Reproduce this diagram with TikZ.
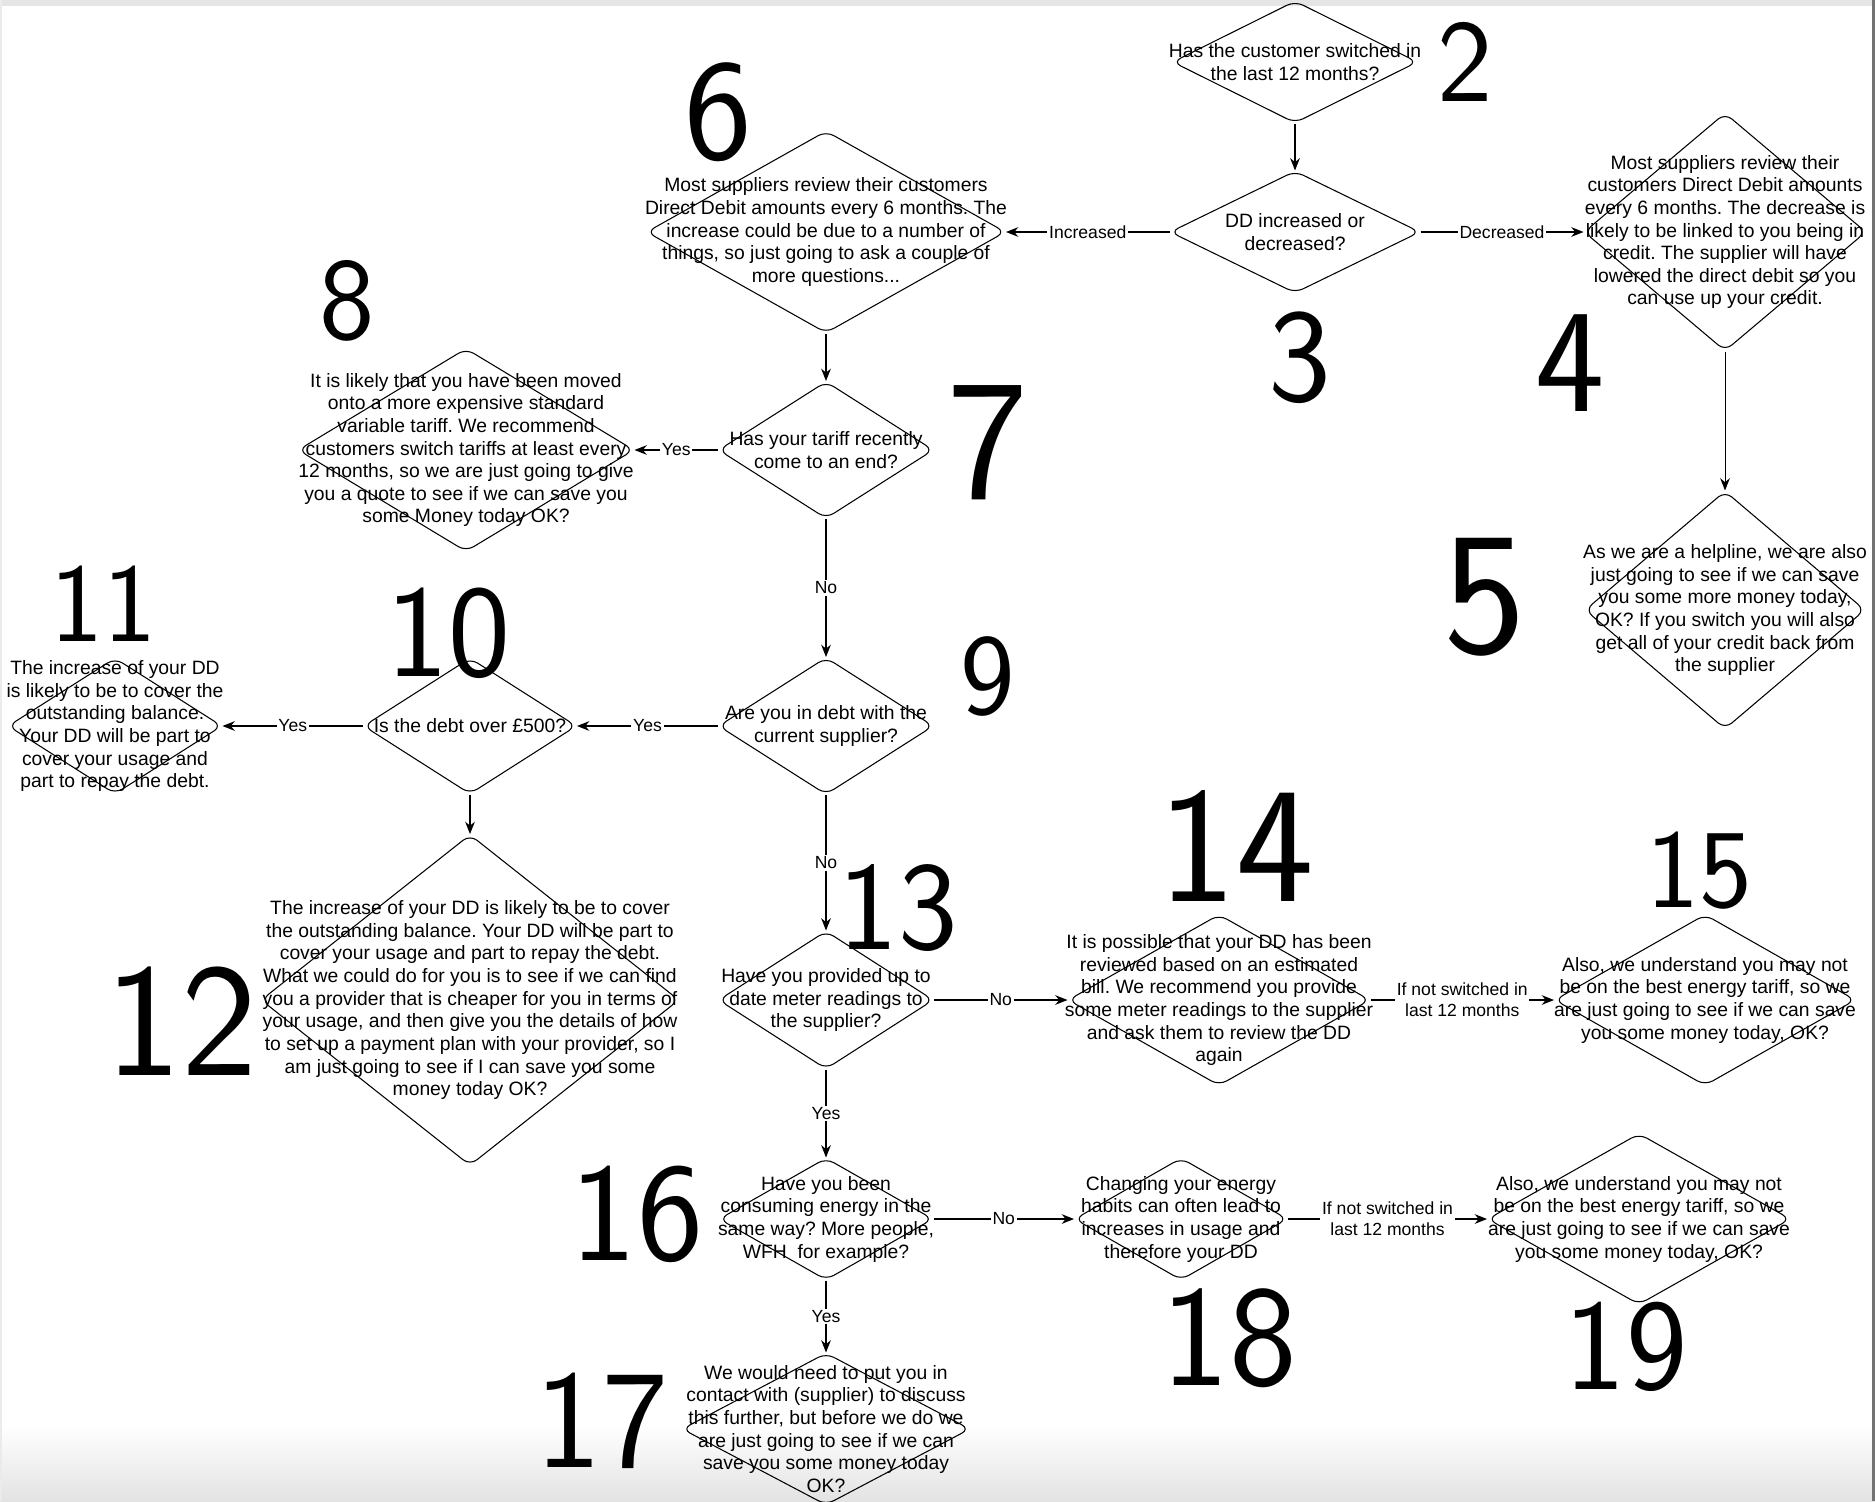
\documentclass[tikz,border=0pt]{standalone}
\usepackage{fontspec}
\setmainfont{Liberation Sans}
\usepackage{tikz}
\usetikzlibrary{arrows.meta, shapes.geometric}
\frenchspacing
\tikzset{%
	decision/.style={
		diamond,
		draw,
		rounded corners=5pt,
		inner sep=0pt,
		line width=0.6pt
	},
	txt/.style={
		align=center,
		font=\fontsize{11}{12.9}\selectfont,
		inner sep=0pt
	},
	branch/.style={
		fill=white,
		inner sep=1pt,
		align=center,
		font=\fontsize{10}{12}\selectfont
	},
	scribble/.style={
		font=\sffamily\fontsize{#1}{#1}\selectfont,
		inner sep=0pt
	},
}

\begin{document}
\begin{tikzpicture}[
			x=0.02cm, y=-0.02cm,
			flow/.style={draw, line width=0.6pt, -{Stealth[length=7pt, width=5.5pt]}}
			]
			\useasboundingbox (0,0) rectangle (1875,1501);
			\shade[top color=white, bottom color=black!11] (0,1425) rectangle (1875,1501);
			\fill[black!10] (0,0) rectangle (1875,6);
			\fill[black!8] (0,0) rectangle (1.5,1501);
			\fill[black!55] (1872,0) rectangle (1875,1501);

			\node[decision, minimum width=4.9cm, minimum height=2.44cm,
				label={[txt]center:{Has the customer switched in\\the last 12 months?}}] (switched) at (1295,62) {};
			\node[decision, minimum width=5cm, minimum height=2.44cm,
				label={[txt]center:{DD increased or\\decreased?}}] (ddchange) at (1295,232) {};
			\node[decision, minimum width=5.64cm, minimum height=4.76cm,
				label={[txt]center:{Most suppliers review their\\customers Direct Debit amounts\\every 6 months. The decrease is\\likely to be linked to you being in\\credit. The supplier will have\\lowered the direct debit so you\\can use up your credit.}}] (decrease) at (1725,232) {};
			\node[decision, minimum width=5.6cm, minimum height=4.76cm,
				label={[txt]center:{As we are a helpline, we are also\\just going to see if we can save\\you some more money today,\\OK? If you switch you will also\\get all of your credit back from\\the supplier}}] (helpline) at (1725,610) {};
			\node[decision, minimum width=7.18cm, minimum height=4.04cm,
				label={[txt]center:{Most suppliers review their customers\\Direct Debit amounts every 6 months. The\\increase could be due to a number of\\things, so just going to ask a couple of\\more questions...}}] (increase) at (826,232) {};
			\node[decision, minimum width=4.3cm, minimum height=2.74cm,
				label={[txt]center:{Has your tariff recently\\come to an end?}}] (tariff) at (826,450) {};
			\node[decision, minimum width=6.72cm, minimum height=4.06cm,
				label={[txt]center:{It is likely that you have been moved\\onto a more expensive standard\\variable tariff. We recommend\\customers switch tariffs at least every\\12 months, so we are just going to give\\you a quote to see if we can save you\\some Money today OK?}}] (svt) at (466,450) {};
			\node[decision, minimum width=4.3cm, minimum height=2.74cm,
				label={[txt]center:{Are you in debt with the\\current supplier?}}] (debt) at (826,726) {};
			\node[decision, minimum width=4.26cm, minimum height=2.72cm,
				label={[txt]center:{Is the debt over £500?}}] (over500) at (470,726) {};
			\node[decision, minimum width=4.28cm, minimum height=2.72cm,
				label={[txt]center:{The increase of your DD\\is likely to be to cover the\\outstanding balance.\\Your DD will be part to\\cover your usage and\\part to repay the debt.}}] (coversmall) at (115,726) {};
			\node[decision, minimum width=8.36cm, minimum height=6.62cm,
				label={[txt]center:{The increase of your DD is likely to be to cover\\the outstanding balance. Your DD will be part to\\cover your usage and part to repay the debt.\\What we could do for you is to see if we can find\\you a provider that is cheaper for you in terms of\\your usage, and then give you the details of how\\to set up a payment plan with your provider, so I\\am just going to see if I can save you some\\money today OK?}}] (coverbig) at (470,1000) {};
			\node[decision, minimum width=4.3cm, minimum height=2.76cm,
				label={[txt]center:{Have you provided up to\\date meter readings to\\the supplier?}}] (readings) at (826,1000) {};
			\node[decision, minimum width=6.04cm, minimum height=3.42cm,
				label={[txt]center:{It is possible that your DD has been\\reviewed based on an estimated\\bill. We recommend you provide\\some meter readings to the supplier\\and ask them to review the DD\\again}}] (estimate) at (1219,1000) {};
			\node[decision, minimum width=6.02cm, minimum height=3.42cm,
				label={[txt]center:{Also, we understand you may not\\be on the best energy tariff, so we\\are just going to see if we can save\\you some money today, OK?}}] (quote1) at (1705,1000) {};
			\node[decision, minimum width=4.28cm, minimum height=2.44cm,
				label={[txt]center:{Have you been\\consuming energy in the\\same way? More people,\\WFH\ \ for example?}}] (usage) at (826,1219) {};
			\node[decision, minimum width=4.26cm, minimum height=2.44cm,
				label={[txt]center:{Changing your energy\\habits can often lead to\\increases in usage and\\therefore your DD}}] (habits) at (1181,1219) {};
			\node[decision, minimum width=6.06cm, minimum height=3.42cm,
				label={[txt]center:{Also, we understand you may not\\be on the best energy tariff, so we\\are just going to see if we can save\\you some money today, OK?}}] (quote2) at (1639,1219) {};
			\node[decision, minimum width=5.76cm, minimum height=3.04cm,
				label={[txt]center:{We would need to put you in\\contact with (supplier) to discuss\\this further, but before we do we\\are just going to see if we can\\save you some money today\\OK?}}] (contact) at (826,1429) {};

			\draw[flow] (switched) -- (ddchange);
			\draw[flow] (ddchange) -- node[branch] {Increased} (increase);
			\draw[flow] (ddchange) -- node[branch] {Decreased} (decrease);
			\draw[flow] (decrease) -- (helpline);
			\draw[flow] (increase) -- (tariff);
			\draw[flow] (tariff) -- node[branch] {Yes} (svt);
			\draw[flow] (tariff) -- node[branch] {No} (debt);
			\draw[flow] (debt) -- node[branch] {Yes} (over500);
			\draw[flow] (over500) -- node[branch] {Yes} (coversmall);
			\draw[flow] (over500) -- (coverbig);
			\draw[flow] (debt) -- node[branch] {No} (readings);
			\draw[flow] (readings) -- node[branch] {No} (estimate);
			\draw[flow] (estimate) -- node[branch] {If not switched in\\last 12 months} (quote1);
			\draw[flow] (readings) -- node[branch] {Yes} (usage);
			\draw[flow] (usage) -- node[branch] {No} (habits);
			\draw[flow] (habits) -- node[branch] {If not switched in\\last 12 months} (quote2);
			\draw[flow] (usage) -- node[branch] {Yes} (contact);

			\node[scribble=67] (h2) at (1465,62) {2};
			\node[scribble=76] (h3) at (1300,358) {3};
			\node[scribble=84] (h4) at (1570,363) {4};
			\node[scribble=100] (h5) at (1485,597) {5};
			\node[scribble=82] (h6) at (718,112) {6};
			\node[scribble=98] (h7) at (988,443) {7};
			\node[scribble=67] (h8) at (347,301) {8};
			\node[scribble=66] (h9) at (988,676) {9};
			\node[scribble=75] (h10) at (448,633) {10};
			\node[scribble=64] (h11) at (103,604) {11};
			\node[scribble=92] (h12) at (181,1021) {12};
			\node[scribble=72] (h13) at (898,908) {13};
			\node[scribble=94] (h14) at (1236,846) {14};
			\node[scribble=64] (h15) at (1699,871) {15};
			\node[scribble=80] (h16) at (637,1214) {16};
			\node[scribble=80] (h17) at (602,1421) {17};
			\node[scribble=82] (h18) at (1229,1338) {18};
			\node[scribble=74] (h19) at (1626,1347) {19};
		\end{tikzpicture}
\end{document}
